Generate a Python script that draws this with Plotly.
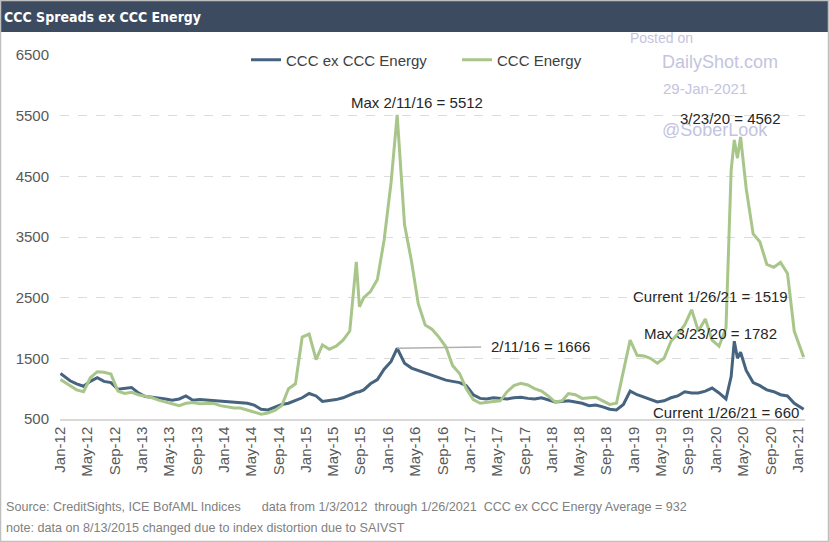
import plotly.graph_objects as go

# ---------------- data ----------------
dates = [
    "2012-01-03", "2012-02-15", "2012-03-15", "2012-04-15", "2012-05-15", "2012-06-15",
    "2012-07-15", "2012-08-15", "2012-09-15", "2012-10-15", "2012-11-15", "2012-12-15",
    "2013-01-15", "2013-02-15", "2013-03-15", "2013-04-15", "2013-05-15", "2013-06-15",
    "2013-07-15", "2013-08-15", "2013-09-15", "2013-10-15", "2013-11-15", "2013-12-15",
    "2014-01-15", "2014-02-15", "2014-03-15", "2014-04-15", "2014-05-15", "2014-06-15",
    "2014-07-15", "2014-08-15", "2014-09-15", "2014-10-15", "2014-11-15", "2014-12-15",
    "2015-01-15", "2015-02-15", "2015-03-15", "2015-04-15", "2015-05-15", "2015-06-15",
    "2015-07-15", "2015-08-13", "2015-08-27", "2015-09-15", "2015-10-15", "2015-11-15", "2015-12-15",
    "2016-01-15", "2016-02-11", "2016-03-15", "2016-04-15", "2016-05-15", "2016-06-15",
    "2016-07-15", "2016-08-15", "2016-09-15", "2016-10-15", "2016-11-15", "2016-12-15",
    "2017-01-15", "2017-02-15", "2017-03-15", "2017-04-15", "2017-05-15", "2017-06-15",
    "2017-07-15", "2017-08-15", "2017-09-15", "2017-10-15", "2017-11-15", "2017-12-15",
    "2018-01-15", "2018-02-15", "2018-03-15", "2018-04-15", "2018-05-15", "2018-06-15",
    "2018-07-15", "2018-08-15", "2018-09-15", "2018-10-15", "2018-11-15", "2018-12-15",
    "2019-01-15", "2019-02-15", "2019-03-15", "2019-04-15", "2019-05-15", "2019-06-15",
    "2019-07-15", "2019-08-15", "2019-09-15", "2019-10-15", "2019-11-15", "2019-12-15",
    "2020-01-15", "2020-02-15", "2020-03-09", "2020-03-23", "2020-04-06", "2020-04-20",
    "2020-05-15", "2020-06-15", "2020-07-15", "2020-08-15", "2020-09-15", "2020-10-15",
    "2020-11-15", "2020-12-15",
    "2021-01-26",
]

ccc_ex_energy = [
    1250, 1130, 1080, 1040, 1120, 1180, 1120, 1100, 990, 1000, 1020, 930,
    870, 860, 850, 830, 810, 830, 880, 810, 820, 810, 810, 790,
    780, 770, 770, 760, 730, 660, 650, 700, 740, 760, 800, 850,
    920, 880, 790, 800, 820, 850, 900, 940, 950, 980, 1080, 1150, 1320,
    1450, 1666, 1420, 1340, 1300, 1260, 1230, 1180, 1140, 1120, 1100, 1050,
    900, 840, 830, 850, 840, 830, 850, 860, 840, 830, 850, 820,
    780, 790, 800, 780, 760, 720, 730, 700, 660, 650, 740, 960,
    900, 860, 820, 780, 800, 850, 880, 950, 930, 930, 960, 1010,
    930, 830, 1200, 1782, 1500, 1600, 1300, 1100, 1050, 980, 950, 900,
    880, 760,
    660,
]

ccc_energy = [
    1150, 1050, 980, 950, 1180, 1280, 1270, 1240, 960, 920, 940, 900,
    870, 850, 810, 780, 740, 720, 760, 770, 750, 750, 760, 720,
    700, 680, 680, 650, 620, 580, 600, 640, 720, 1000, 1080, 1850,
    1900, 1480, 1720, 1650, 1700, 1800, 1950, 3090, 2350, 2500, 2600, 2800, 3450,
    4400, 5512, 3700, 3100, 2400, 2050, 1980, 1850, 1690, 1380, 1250, 1000,
    820, 760, 780, 790, 800, 950, 1050, 1090, 1060, 1000, 960, 880,
    780, 800, 920, 900, 840, 850, 860, 800, 740, 760, 1300, 1800,
    1550, 1540, 1500, 1420, 1500, 1780, 1900, 2050, 2300, 1950, 2150, 1800,
    1700, 2000, 4600, 5100, 4800, 5150, 4300, 3550, 3420, 3050, 3000, 3080,
    2900, 1950,
    1519,
]

series_names = ["CCC ex CCC Energy", "CCC Energy"]
y_ticks = [500, 1500, 2500, 3500, 4500, 5500, 6500]

# ---------------- layout helpers ----------------
W, H = 829, 542
L, R, T, B = 60, 24, 55, 123
PW, PH = W - L - R, H - T - B


def px(x):
    return (x - L) / PW


def py(y):
    return (H - B - y) / PH


FONT = "Arial, Liberation Sans, sans-serif"
BLUE = "#46637f"
GREEN = "#a8c68a"
WM = "#c4c4de"

fig = go.Figure()
fig.add_trace(go.Scatter(x=dates, y=ccc_ex_energy, name=series_names[0], mode="lines",
                         line=dict(color=BLUE, width=3)))
fig.add_trace(go.Scatter(x=dates, y=ccc_energy, name=series_names[1], mode="lines",
                         line=dict(color=GREEN, width=3)))

fig.update_layout(
    width=W, height=H,
    margin=dict(l=L, r=R, t=T, b=B, autoexpand=False),
    paper_bgcolor="white", plot_bgcolor="white",
    font=dict(family=FONT, size=15, color="#404040"),
    showlegend=True,
    legend=dict(orientation="h", x=px(246), y=py(60), xanchor="left", yanchor="middle",
                entrywidth=166, entrywidthmode="pixels",
                font=dict(size=15, color="#404040"), bgcolor="rgba(0,0,0,0)"),
    xaxis=dict(type="date", range=["2012-01-01", "2021-02-01"],
               tick0="2012-01-01", dtick="M4", tickformat="%b-%y", tickangle=-90,
               showgrid=False, showline=True, linecolor="#d9d9d9", linewidth=1.5,
               ticks="", zeroline=False,
               tickfont=dict(size=15, color="#595959")),
    yaxis=dict(range=[500, 6500], tickvals=y_ticks, showgrid=True, gridcolor="#dcdcdc",
               griddash="dash", gridwidth=1, zeroline=False, showline=False, ticks="",
               ticklabelstandoff=10, tickfont=dict(size=15, color="#595959")),
)

shapes = [
    # title bar
    dict(type="rect", xref="paper", yref="paper", x0=px(0), x1=px(W), y0=py(32), y1=py(0),
         fillcolor="#3d4b60", line=dict(width=0), layer="above"),
    # outer frame
    dict(type="rect", xref="paper", yref="paper", x0=px(0.5), x1=px(W - 0.5), y0=py(H - 0.5), y1=py(0.5),
         line=dict(color="#bfbfbf", width=1.5), fillcolor="rgba(0,0,0,0)"),
]
fig.update_layout(shapes=shapes)

ann = []
ann.append(dict(text="<b>CCC Spreads ex CCC Energy</b>", xref="paper", yref="paper",
                x=px(2), y=py(17), xanchor="left", yanchor="middle", showarrow=False,
                font=dict(family="DejaVu Sans Condensed, Liberation Sans Narrow, Arial Narrow, sans-serif",
                          size=14, color="white")))
# watermark
wm = [("Posted on", 661, 38, 14), ("DailyShot.com", 720, 62, 18),
      ("29-Jan-2021", 705, 88, 15), ("@SoberLook", 715, 130, 18)]
for t, x, y, s in wm:
    ann.append(dict(text=t, xref="paper", yref="paper", x=px(x), y=py(y), xanchor="center",
                    yanchor="middle", showarrow=False, font=dict(size=s, color=WM)))

# data labels
TXT = "#262626"
labels = [("Max 2/11/16 = 5512", 417, 102), ("3/23/20 = 4562", 730, 118),
          ("Current 1/26/21 = 1519", 710, 296), ("Max 3/23/20 = 1782", 710, 333),
          ("Current 1/26/21 = 660", 726, 412)]
for t, x, y in labels:
    ann.append(dict(text=t, xref="paper", yref="paper", x=px(x), y=py(y), xanchor="center",
                    yanchor="middle", showarrow=False, font=dict(size=15, color=TXT)))

# 2/11/16 label with connector line to the point
ann.append(dict(text="2/11/16 = 1666", x=dates[50], y=ccc_ex_energy[50], xref="x", yref="y",
                ax=143, ay=-2, axref="pixel", ayref="pixel", showarrow=True, arrowhead=0,
                arrowwidth=1.5, arrowcolor="#b0b0b0", xanchor="center", borderpad=9,
                font=dict(size=15, color=TXT)))

# footer
ann.append(dict(text="Source: CreditSights, ICE BofAML Indices      data from 1/3/2012  through 1/26/2021  CCC ex CCC Energy Average = 932",
                xref="paper", yref="paper", x=px(4), y=py(507), xanchor="left", yanchor="middle",
                showarrow=False, font=dict(size=12.6, color="#808080")))
ann.append(dict(text="note: data on 8/13/2015 changed due to index distortion due to SAIVST",
                xref="paper", yref="paper", x=px(4), y=py(528), xanchor="left", yanchor="middle",
                showarrow=False, font=dict(size=12.6, color="#808080")))
fig.update_layout(annotations=ann)

fig.write_html("out.html")
